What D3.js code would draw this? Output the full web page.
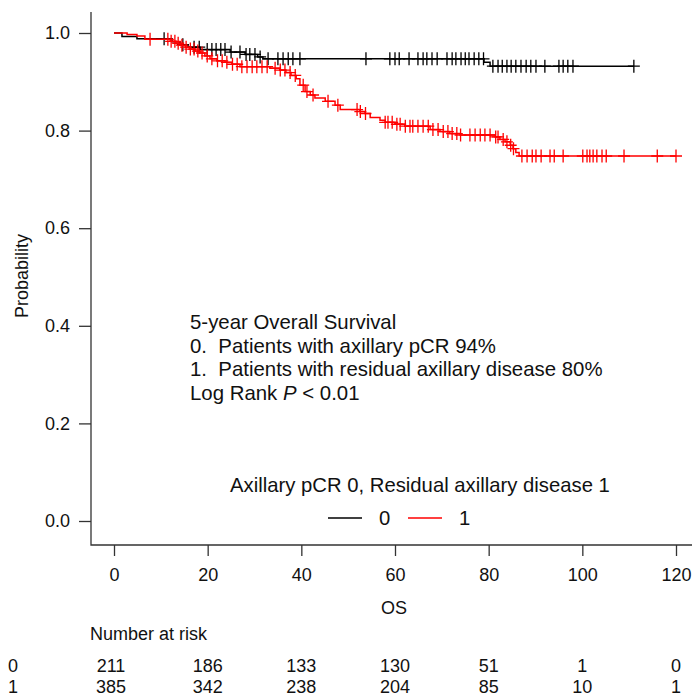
<!DOCTYPE html>
<html>
<head>
<meta charset="utf-8">
<script src="https://cdn.jsdelivr.net/npm/d3@7"></script>
<style>
  body { margin: 0; background: #fff; }
  svg text { font-family: "Liberation Sans", Arial, sans-serif; fill: #111; white-space: pre; }
</style>
</head>
<body>
<svg id="chart" width="692" height="699"></svg>
<script>
// group labels and colours
const groups = ["0", "1"];
const colors = ["#000000", "#ff0000"];

// group 0 : axillary pCR  (months, survival after event)
const eventTime0 = [1.7, 4.9, 12.4, 14.1, 15.8, 18.4, 24.8, 28.0, 30.7, 31.8, 79.0, 80.3];
const eventSurv0 = [0.993, 0.988, 0.982, 0.976, 0.971, 0.966, 0.961, 0.956, 0.951, 0.947, 0.940, 0.932];
const censor0 = [10.7, 14.7, 17.1, 18.2, 19.9, 20.9, 21.8, 22.8, 23.7, 25.0, 26.9, 28.2, 29.0, 30.1,
  31.2, 32.9, 35.0, 36.1, 37.2, 38.2, 39.7, 53.8, 58.9, 60.0, 60.9, 63.0, 64.9, 66.0, 66.8, 67.9,
  69.0, 71.1, 72.2, 73.0, 74.1, 75.0, 75.8, 76.9, 77.9, 78.9, 80.9, 82.0, 82.9, 83.9, 84.8, 85.8,
  86.9, 88.0, 89.0, 90.1, 92.0, 95.0, 95.9, 96.9, 98.0, 111.0];

// group 1 : residual axillary disease
const eventTime1 = [2.8, 4.9, 6.6, 12.0, 13.2, 14.1, 15.2, 16.2, 17.3, 18.4, 19.4, 20.5, 22.0, 23.7,
  25.2, 26.9, 33.3, 35.4, 36.7, 37.8, 38.9, 39.7, 40.8, 41.9, 42.9, 45.1, 47.2, 48.3, 52.5, 53.6,
  54.7, 56.8, 57.9, 60.0, 62.1, 67.5, 69.6, 71.7, 73.9, 81.4, 82.4, 83.5, 84.6, 85.2, 85.8, 86.5];
const eventSurv1 = [0.997, 0.994, 0.987, 0.983, 0.979, 0.975, 0.971, 0.967, 0.963, 0.959, 0.953, 0.947,
  0.943, 0.940, 0.936, 0.931, 0.928, 0.924, 0.919, 0.913, 0.906, 0.893, 0.880, 0.873, 0.867, 0.860,
  0.852, 0.843, 0.839, 0.835, 0.827, 0.821, 0.817, 0.813, 0.809, 0.802, 0.798, 0.794, 0.791, 0.787,
  0.782, 0.777, 0.770, 0.763, 0.755, 0.748];
const censor1 = [7.7, 11.5, 12.2, 13.0, 13.7, 14.5, 15.4, 16.3, 17.1, 17.9, 18.8, 19.9, 20.9, 22.1,
  23.1, 24.1, 25.3, 26.3, 27.3, 28.4, 29.5, 30.5, 31.6, 32.7, 34.4, 35.5, 36.5, 37.6, 38.7, 40.4,
  41.2, 42.5, 45.7, 47.8, 51.9, 52.6, 53.7, 57.9, 58.5, 59.4, 60.4, 61.1, 62.2, 63.2, 63.8, 64.9,
  66.0, 67.1, 68.1, 69.2, 70.3, 71.3, 72.2, 73.2, 74.0, 76.0, 77.1, 78.2, 79.2, 80.3, 81.5, 82.0,
  83.1, 83.9, 84.7, 85.3, 87.1, 88.2, 89.3, 90.1, 91.2, 93.1, 94.0, 95.9, 100.1, 101.0, 101.6,
  102.3, 103.1, 104.2, 105.1, 108.9, 116.0, 120.0];

// number at risk
const riskTimes = [0, 20, 40, 60, 80, 100, 120];
const risk0 = [211, 186, 133, 130, 51, 1, 0];
const risk1 = [385, 342, 238, 204, 85, 10, 1];

const xTicks = [0, 20, 40, 60, 80, 100, 120];
const yTicks = [0, 0.2, 0.4, 0.6, 0.8, 1.0];

const svg = d3.select("#chart");

const x = d3.scaleLinear().domain([0, 120]).range([114, 676]);
const y = d3.scaleLinear().domain([0, 1]).range([521, 33]);

// L-shaped box
svg.append("path")
  .attr("d", "M91,12V545H692")
  .attr("fill", "none")
  .attr("stroke", "#333")
  .attr("stroke-width", 1.3);

// y axis
const yAxis = svg.append("g")
  .attr("transform", "translate(91,0)")
  .call(d3.axisLeft(y).tickValues(yTicks).tickFormat(d3.format(".1f")).tickSize(12).tickPadding(9));
yAxis.select(".domain").remove();
yAxis.selectAll("line").attr("stroke", "#333").attr("stroke-width", 1.3);
yAxis.selectAll("text").attr("font-size", 18).attr("font-family", null);

// x axis
const xAxis = svg.append("g")
  .attr("transform", "translate(0,545)")
  .call(d3.axisBottom(x).tickValues(xTicks).tickSize(11).tickPadding(12));
xAxis.select(".domain").remove();
xAxis.selectAll("line").attr("stroke", "#333").attr("stroke-width", 1.3);
xAxis.selectAll("text").attr("font-size", 18).attr("font-family", null);

svg.append("text")
  .attr("transform", "translate(28,276) rotate(-90)")
  .attr("text-anchor", "middle")
  .attr("font-size", 18)
  .text("Probability");

svg.append("text")
  .attr("x", 394).attr("y", 614)
  .attr("text-anchor", "middle")
  .attr("font-size", 18)
  .text("OS");

// curves
const line = d3.line()
  .x(d => x(d[0]))
  .y(d => y(d[1]))
  .curve(d3.curveStepAfter);

const series = [
  {times: eventTime0, surv: eventSurv0, censor: censor0},
  {times: eventTime1, surv: eventSurv1, censor: censor1}
];

series.forEach((s, i) => {
  const survAt = t => {
    let v = 1;
    s.times.forEach((et, j) => { if (et <= t) v = s.surv[j]; });
    return v;
  };
  const end = d3.max(s.censor);
  const pts = [[0, 1]];
  s.times.forEach((t, j) => pts.push([t, s.surv[j]]));
  pts.push([end, survAt(end)]);

  const g = svg.append("g").attr("stroke", colors[i]).attr("fill", "none");
  g.append("path")
    .attr("d", line(pts))
    .attr("stroke-width", 1.5);

  g.selectAll("path.cens")
    .data(s.censor)
    .join("path")
    .attr("class", "cens")
    .attr("stroke-width", 1.3)
    .attr("d", t => {
      const cx = x(t), cy = y(survAt(t));
      return `M${cx - 6},${cy}H${cx + 6}M${cx},${cy - 6.5}V${cy + 6.5}`;
    });
});

// annotation text
const notes = ["5-year Overall Survival",
  "0.  Patients with axillary pCR 94%",
  "1.  Patients with residual axillary disease 80%"];
notes.forEach((t, i) => {
  svg.append("text")
    .attr("x", 190).attr("y", 329 + i * 23.7)
    .attr("font-size", 20.4)
    .text(t);
});
const lr = svg.append("text")
  .attr("x", 190).attr("y", 329 + 3 * 23.7)
  .attr("font-size", 20.4);
lr.append("tspan").text("Log Rank ");
lr.append("tspan").attr("font-style", "italic").text("P");
lr.append("tspan").text(" < 0.01");

// legend
svg.append("text")
  .attr("x", 230).attr("y", 492)
  .attr("font-size", 20.3)
  .text("Axillary pCR 0, Residual axillary disease 1");

const legendX = [328, 408];
groups.forEach((gname, i) => {
  svg.append("line")
    .attr("x1", legendX[i]).attr("x2", legendX[i] + 34)
    .attr("y1", 518).attr("y2", 518)
    .attr("stroke", colors[i])
    .attr("stroke-width", 1.3);
  svg.append("text")
    .attr("x", legendX[i] + 51).attr("y", 525)
    .attr("text-anchor", "start")
    .attr("font-size", 20.3)
    .text(gname);
});

// number at risk table
svg.append("text")
  .attr("x", 90).attr("y", 640)
  .attr("font-size", 18)
  .text("Number at risk");

[risk0, risk1].forEach((row, i) => {
  const yy = 672 + i * 21;
  svg.append("text")
    .attr("x", 8).attr("y", yy)
    .attr("font-size", 18)
    .text(groups[i]);
  svg.append("g").selectAll("text")
    .data(row)
    .join("text")
    .attr("x", (d, j) => x(riskTimes[j]) - (j === 0 ? 3 : 0))
    .attr("y", yy)
    .attr("text-anchor", "middle")
    .attr("font-size", 18)
    .text(d => d);
});
</script>
</body>
</html>
